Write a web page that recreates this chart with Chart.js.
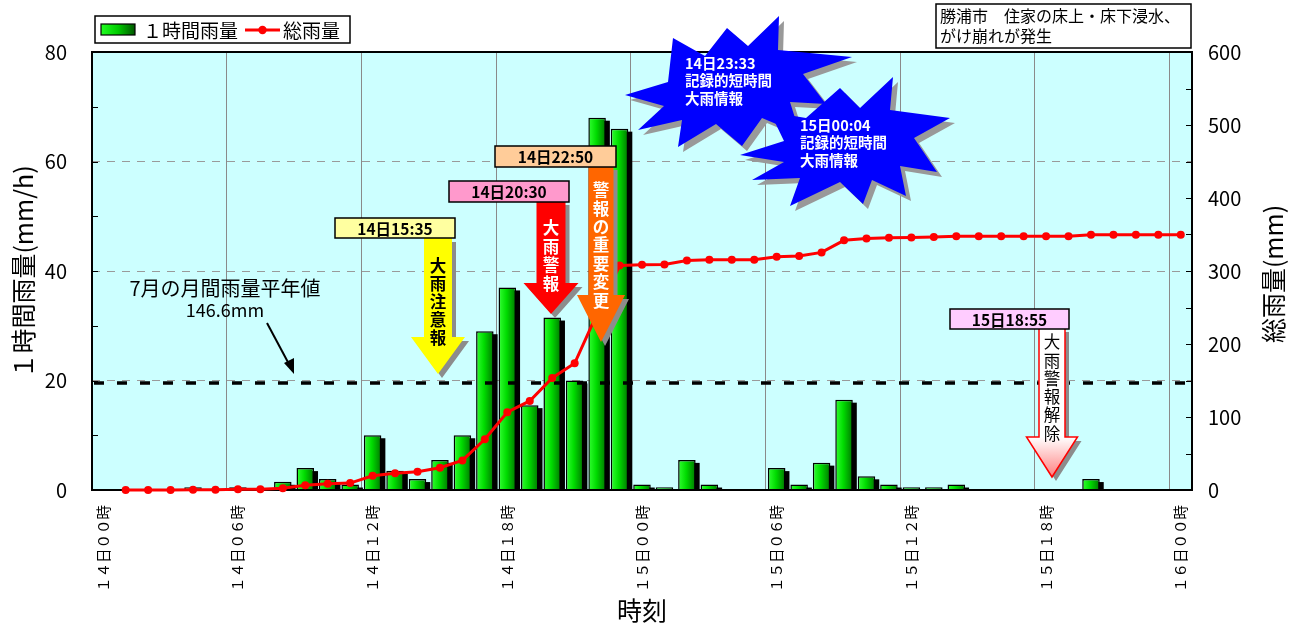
<!DOCTYPE html>
<html>
<head>
<meta charset="utf-8">
<script src="https://cdn.jsdelivr.net/npm/chart.js@4/dist/chart.umd.min.js"></script>
<style>
html, body { margin: 0; padding: 0; background: #fff; }
</style>
</head>
<body>
<canvas id="rain-chart" width="1298" height="627"></canvas>
<script>
// Hourly rain at Katsuura, 14th 00h - 16th 00h
const hours = [
    '14日00時', '14日01時', '14日02時', '14日03時', '14日04時', '14日05時',
    '14日06時', '14日07時', '14日08時', '14日09時', '14日10時', '14日11時',
    '14日12時', '14日13時', '14日14時', '14日15時', '14日16時', '14日17時',
    '14日18時', '14日19時', '14日20時', '14日21時', '14日22時', '14日23時',
    '15日00時', '15日01時', '15日02時', '15日03時', '15日04時', '15日05時',
    '15日06時', '15日07時', '15日08時', '15日09時', '15日10時', '15日11時',
    '15日12時', '15日13時', '15日14時', '15日15時', '15日16時', '15日17時',
    '15日18時', '15日19時', '15日20時', '15日21時', '15日22時', '15日23時',
    '16日00時'
];

// 1時間雨量 (mm/h)
const hourlyRain = [
    0, 0, 0, 0, 0.5, 0, 0.5, 0, 1.5, 4, 2, 1,
    10, 3.5, 2, 5.5, 10, 29, 37, 15.5, 31.5, 20, 68, 66,
    1, 0.5, 5.5, 1, 0, 0, 4, 1, 5, 16.5, 2.5, 1,
    0.5, 0.5, 1, 0, 0, 0, 0, 0, 2, 0, 0, 0,
    0
];

// 総雨量 (mm)
const totalRain = [
    null, 0, 0, 0, 0.5, 0.5, 1, 1, 2.5, 6.5, 8.5, 9.5,
    19.5, 23, 25, 30.5, 40.5, 69.5, 106.5, 122, 153.5, 173.5, 241.5, 307.5,
    308.5, 309, 314.5, 315.5, 315.5, 315.5, 319.5, 320.5, 325.5, 342, 344.5, 345.5,
    346, 346.5, 347.5, 347.5, 347.5, 347.5, 347.5, 347.5, 349.5, 349.5, 349.5, 349.5,
    349.5
];

// 7月の月間雨量平年値 (mm)
const julyNormal = 146.6;

const FONT = "'Noto Sans CJK JP', 'Noto Sans', sans-serif";

// full-width digits for the time axis labels
function toWide(s) {
    return s.replace(/[0-9]/g, d => String.fromCharCode(d.charCodeAt(0) + 0xFEE0));
}

// Drawing helpers
function labelBox(ctx, x, y, w, h, fill, text) {
    ctx.save();
    ctx.fillStyle = fill;
    ctx.fillRect(x, y, w, h);
    ctx.strokeStyle = '#000';
    ctx.lineWidth = 1.5;
    ctx.strokeRect(x, y, w, h);
    ctx.fillStyle = '#000';
    ctx.font = 'bold 15.5px ' + FONT;
    ctx.textAlign = 'center';
    ctx.textBaseline = 'middle';
    ctx.fillText(text, x + w / 2, y + h / 2 + 1);
    ctx.restore();
}

function arrowPath(ctx, cx, top, shaftW, headTop, headW, tip) {
    ctx.beginPath();
    ctx.moveTo(cx - shaftW / 2, top);
    ctx.lineTo(cx + shaftW / 2, top);
    ctx.lineTo(cx + shaftW / 2, headTop);
    ctx.lineTo(cx + headW / 2, headTop);
    ctx.lineTo(cx, tip);
    ctx.lineTo(cx - headW / 2, headTop);
    ctx.lineTo(cx - shaftW / 2, headTop);
    ctx.closePath();
}

function arrow(ctx, a) {
    ctx.save();
    ctx.translate(4, 4);
    arrowPath(ctx, a.cx, a.top, a.shaftW, a.headTop, a.headW, a.tip);
    ctx.fillStyle = '#8c8c8c';
    ctx.fill();
    ctx.restore();
    ctx.save();
    arrowPath(ctx, a.cx, a.top, a.shaftW, a.headTop, a.headW, a.tip);
    if (a.gradient) {
        const g = ctx.createLinearGradient(0, a.top, 0, a.tip);
        g.addColorStop(0, '#ffffff');
        g.addColorStop((a.headTop - a.top) / (a.tip - a.top), '#ffffff');
        g.addColorStop(1, '#ff8080');
        ctx.fillStyle = g;
    } else {
        ctx.fillStyle = a.fill;
    }
    ctx.fill();
    if (a.stroke) {
        ctx.strokeStyle = a.stroke;
        ctx.lineWidth = 1.5;
        ctx.stroke();
    }
    ctx.fillStyle = a.textColor;
    ctx.font = (a.bold ? 'bold ' : '') + '16.5px ' + FONT;
    ctx.textAlign = 'center';
    ctx.textBaseline = 'middle';
    [...a.text].forEach((ch, i) => ctx.fillText(ch, a.cx, a.textTop + i * a.step));
    ctx.restore();
}

function star(ctx, pts, lines, tx, ty) {
    ctx.save();
    ctx.beginPath();
    pts.forEach(([x, y], i) => i ? ctx.lineTo(x + 5, y + 5) : ctx.moveTo(x + 5, y + 5));
    ctx.closePath();
    ctx.fillStyle = '#999999';
    ctx.fill();
    ctx.beginPath();
    pts.forEach(([x, y], i) => i ? ctx.lineTo(x, y) : ctx.moveTo(x, y));
    ctx.closePath();
    ctx.fillStyle = '#0000ff';
    ctx.fill();
    ctx.fillStyle = '#fff';
    ctx.font = 'bold 14.5px ' + FONT;
    ctx.textBaseline = 'middle';
    lines.forEach((t, i) => ctx.fillText(t, tx, ty + i * 17.5));
    ctx.restore();
}

const star1 = [
    [625, 95], [668, 82], [673, 38], [705, 56], [727, 28], [748, 46], [779, 16], [778, 50],
    [852, 57], [803, 74], [826, 104], [790, 102], [800, 134], [762, 118], [742, 146],
    [716, 124], [678, 147], [682, 120], [638, 130], [664, 106]
];
const star2 = [
    [740, 155], [784, 141], [770, 112], [806, 118], [840, 88], [860, 108], [893, 77],
    [890, 110], [950, 118], [914, 138], [937, 172], [900, 166], [906, 196], [872, 180],
    [863, 204], [840, 182], [790, 206], [800, 178], [752, 180], [784, 162]
];

const decorPlugin = {
    id: 'decor',
    beforeDraw(chart) {
        const {ctx, chartArea: a} = chart;
        ctx.save();
        ctx.fillStyle = '#ccffff';
        ctx.fillRect(a.left, a.top, a.right - a.left, a.bottom - a.top);
        ctx.restore();
    },
    beforeDatasetDraw(chart, args) {
        if (args.index !== 0) return;
        const {ctx, chartArea: a} = chart;
        // black drop shadow behind each bar, then green gradient fill
        ctx.save();
        ctx.beginPath();
        ctx.rect(a.left, a.top, a.right - a.left, a.bottom - a.top);
        ctx.clip();
        ctx.fillStyle = '#000';
        args.meta.data.forEach(bar => {
            if (!isFinite(bar.x) || bar.base - bar.y < 0.5) return;
            ctx.fillRect(bar.x - bar.width / 2 + 4, bar.y + 3, bar.width, bar.base - bar.y);
        });
        ctx.restore();
        args.meta.data.forEach(bar => {
            const w = bar.width;
            if (!isFinite(bar.x) || !isFinite(w)) return;
            const g = ctx.createLinearGradient(bar.x - w / 2, 0, bar.x + w / 2, 0);
            g.addColorStop(0, '#33ff33');
            g.addColorStop(0.45, '#00dd00');
            g.addColorStop(1, '#007700');
            bar.options = Object.assign({}, bar.options, { backgroundColor: g });
        });
    },
    afterDatasetDraw(chart, args) {
        if (args.index !== 0) return;
        const {ctx, chartArea: a, scales} = chart;

        // 平年値 dashed line
        const yAvg = scales.y2.getPixelForValue(julyNormal);
        ctx.save();
        ctx.strokeStyle = '#000';
        ctx.lineWidth = 3.5;
        ctx.setLineDash([10, 13]);
        ctx.beginPath();
        ctx.moveTo(a.left + 2, yAvg);
        ctx.lineTo(a.right, yAvg);
        ctx.stroke();
        ctx.restore();

        // frame + inward ticks
        ctx.save();
        ctx.strokeStyle = '#000';
        ctx.lineWidth = 2;
        ctx.strokeRect(a.left, a.top, a.right - a.left, a.bottom - a.top);
        ctx.lineWidth = 1;
        ctx.beginPath();
        for (let v = 0; v <= 80; v += 10) {
            const y = Math.round(scales.y.getPixelForValue(v)) + 0.5;
            ctx.moveTo(a.left, y);
            ctx.lineTo(a.left + 6, y);
        }
        for (let v = 0; v <= 600; v += 50) {
            const y = Math.round(scales.y2.getPixelForValue(v)) + 0.5;
            ctx.moveTo(a.right - 6, y);
            ctx.lineTo(a.right, y);
        }
        ctx.stroke();
        ctx.restore();
    },
    afterDraw(chart) {
        const ctx = chart.ctx;

        // 平年値 note
        ctx.save();
        ctx.fillStyle = '#000';
        ctx.textAlign = 'center';
        ctx.textBaseline = 'middle';
        ctx.font = '20px ' + FONT;
        ctx.fillText('7月の月間雨量平年値', 225, 288);
        ctx.font = '18px ' + FONT;
        ctx.fillText('146.6mm', 225, 310);
        ctx.strokeStyle = '#000';
        ctx.lineWidth = 2;
        ctx.beginPath();
        ctx.moveTo(267, 323);
        ctx.lineTo(290, 366);
        ctx.stroke();
        ctx.beginPath();
        ctx.moveTo(294, 374);
        ctx.lineTo(284, 363);
        ctx.lineTo(294, 358);
        ctx.closePath();
        ctx.fill();
        ctx.restore();

        // warning arrows
        arrow(ctx, {cx: 438, top: 238, shaftW: 28, headTop: 337, headW: 54, tip: 374,
            fill: '#ffff00', textColor: '#000', bold: true, text: '大雨注意報', textTop: 266, step: 18});
        arrow(ctx, {cx: 551, top: 201, shaftW: 29, headTop: 283, headW: 55, tip: 314,
            fill: '#ff0000', textColor: '#fff', bold: true, text: '大雨警報', textTop: 228, step: 18.5});
        arrow(ctx, {cx: 601, top: 166, shaftW: 25, headTop: 295, headW: 48, tip: 342,
            fill: '#ff6600', textColor: '#fff', bold: true, text: '警報の重要変更', textTop: 190, step: 18.4});
        arrow(ctx, {cx: 1052, top: 328, shaftW: 26, headTop: 437, headW: 51, tip: 477,
            gradient: true, stroke: '#ff0000', textColor: '#000', bold: false, text: '大雨警報解除', textTop: 342, step: 18.3});

        labelBox(ctx, 335, 218, 120, 20, '#ffffa0', '14日15:35');
        labelBox(ctx, 449, 181, 120, 21, '#ff99cc', '14日20:30');
        labelBox(ctx, 495, 146, 121, 21, '#ffcc99', '14日22:50');
        labelBox(ctx, 950, 309, 119, 20, '#ffccff', '15日18:55');

        star(ctx, star1, ['14日23:33', '記録的短時間', '大雨情報'], 685, 63);
        star(ctx, star2, ['15日00:04', '記録的短時間', '大雨情報'], 800, 125);

        // legend
        ctx.save();
        ctx.fillStyle = '#fff';
        ctx.fillRect(95, 16, 255, 27);
        ctx.strokeStyle = '#000';
        ctx.lineWidth = 1.5;
        ctx.strokeRect(95, 16, 255, 27);
        const g = ctx.createLinearGradient(101, 0, 135, 0);
        g.addColorStop(0, '#22ff22');
        g.addColorStop(0.5, '#00cc00');
        g.addColorStop(1, '#005500');
        ctx.fillStyle = g;
        ctx.fillRect(101, 24, 34, 11);
        ctx.lineWidth = 1.2;
        ctx.strokeRect(101, 24, 34, 11);
        ctx.strokeStyle = '#ff0000';
        ctx.lineWidth = 3;
        ctx.beginPath();
        ctx.moveTo(245, 30);
        ctx.lineTo(280, 30);
        ctx.stroke();
        ctx.fillStyle = '#ff0000';
        ctx.beginPath();
        ctx.arc(262.5, 30, 4.2, 0, Math.PI * 2);
        ctx.fill();
        ctx.fillStyle = '#000';
        ctx.font = '19px ' + FONT;
        ctx.textBaseline = 'middle';
        ctx.fillText('１時間雨量', 143, 30.5);
        ctx.fillText('総雨量', 283, 30.5);
        ctx.restore();

        // note box top right
        ctx.save();
        ctx.fillStyle = '#fff';
        ctx.fillRect(936, 4, 255, 44);
        ctx.strokeStyle = '#000';
        ctx.lineWidth = 1.5;
        ctx.strokeRect(936, 4, 255, 44);
        ctx.fillStyle = '#000';
        ctx.font = '16px ' + FONT;
        ctx.textBaseline = 'middle';
        ctx.fillText('勝浦市　住家の床上・床下浸水、', 940, 15.5);
        ctx.fillText('がけ崩れが発生', 940, 35.5);
        ctx.restore();

        // axis titles
        ctx.save();
        ctx.fillStyle = '#000';
        ctx.font = '25px ' + FONT;
        ctx.textAlign = 'center';
        ctx.textBaseline = 'middle';
        ctx.fillText('時刻', 642, 610);
        ctx.translate(23, 272);
        ctx.rotate(-Math.PI / 2);
        ctx.fillText('１時間雨量(mm/h)', 0, 0);
        ctx.restore();
        ctx.save();
        ctx.fillStyle = '#000';
        ctx.font = '25px ' + FONT;
        ctx.textAlign = 'center';
        ctx.textBaseline = 'middle';
        ctx.translate(1273, 274);
        ctx.rotate(-Math.PI / 2);
        ctx.fillText('総雨量(mm)', 0, 0);
        ctx.restore();
    }
};

const ctx = document.getElementById('rain-chart').getContext('2d');

new Chart(ctx, {
    data: {
        labels: hours,
        datasets: [{
            type: 'bar',
            label: '１時間雨量',
            data: hourlyRain,
            yAxisID: 'y',
            order: 2,
            clip: 0,
            backgroundColor: '#00cc00',
            borderColor: '#000',
            borderWidth: 1.5,
            borderSkipped: 'bottom',
            barPercentage: 0.78,
            categoryPercentage: 1
        }, {
            type: 'line',
            label: '総雨量',
            data: totalRain,
            yAxisID: 'y2',
            order: 1,
            clip: false,
            borderColor: '#ff0000',
            borderWidth: 3,
            pointRadius: 4,
            pointBackgroundColor: '#ff0000',
            pointBorderWidth: 0,
            tension: 0
        }]
    },
    options: {
        responsive: false,
        animation: false,
        devicePixelRatio: 1,
        layout: {
            padding: { top: 52, left: 0, right: 0, bottom: 0 }
        },
        plugins: {
            legend: { display: false },
            tooltip: { enabled: false }
        },
        scales: {
            x: {
                offset: true,
                border: { display: false },
                grid: {
                    offset: true,
                    drawTicks: false,
                    lineWidth: 1,
                    color: c => (c.type === 'tick' && c.index > 0 && c.index % 6 === 0) ? '#8a8a8a' : 'rgba(0,0,0,0)'
                },
                ticks: {
                    autoSkip: false,
                    minRotation: 90,
                    maxRotation: 90,
                    padding: 15,
                    color: '#000',
                    font: { family: FONT, size: 14.5 },
                    callback: (v, i) => i % 6 === 0 ? toWide(hours[i]) : ''
                },
                afterFit: s => { s.height = 137; }
            },
            y: {
                position: 'left',
                min: 0,
                max: 80,
                border: { display: false, dash: [8, 7] },
                grid: {
                    drawTicks: false,
                    color: c => (c.tick && c.tick.value > 0 && c.tick.value < 80) ? '#9a9a9a' : 'rgba(0,0,0,0)'
                },
                ticks: {
                    stepSize: 20,
                    padding: 25,
                    color: '#000',
                    font: { family: FONT, size: 20 }
                },
                afterFit: s => { s.width = 92; }
            },
            y2: {
                position: 'right',
                min: 0,
                max: 600,
                border: { display: false },
                grid: { display: false, drawTicks: false },
                ticks: {
                    stepSize: 100,
                    padding: 16,
                    color: '#000',
                    font: { family: FONT, size: 20 }
                },
                afterFit: s => { s.width = 106; }
            }
        }
    },
    plugins: [decorPlugin]
});
</script>
</body>
</html>
